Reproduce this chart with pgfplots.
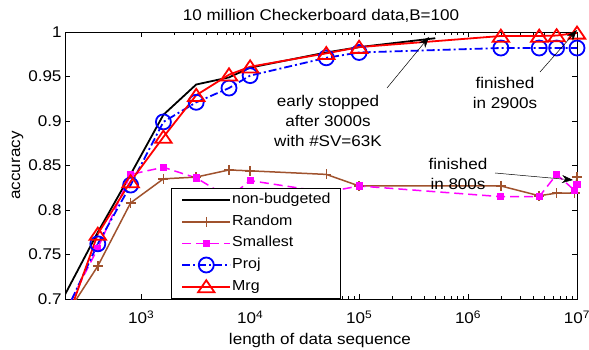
\documentclass[border=0pt]{standalone}
\usepackage{fontspec}
\setmainfont{Liberation Sans}[FakeStretch=1.1]
\usepackage{pgfplots}
\pgfplotsset{compat=1.18}
\usetikzlibrary{arrows.meta}
\definecolor{brn}{RGB}{160,82,45}
\definecolor{mag}{RGB}{255,0,255}
\definecolor{blu}{RGB}{0,0,255}
\definecolor{rd}{RGB}{255,0,0}
\begin{document}
\begin{tikzpicture}[font=\fontsize{15.5bp}{20bp}\selectfont]
\begin{axis}[
  at={(65bp,51bp)}, anchor=south west,
  scale only axis, width=512bp, height=267bp,
  xmode=log, xmin=200, xmax=1e7, ymin=0.7, ymax=1,
  xtick={1e3,1e4,1e5,1e6,1e7},
  xticklabels={10\textsuperscript{3},10\textsuperscript{4},10\textsuperscript{5},10\textsuperscript{6},10\textsuperscript{7}},
  ytick={0.7,0.75,0.8,0.85,0.9,0.95,1},
  yticklabels={0.7,0.75,0.8,0.85,0.9,0.95,1},
  xticklabel style={anchor=base, yshift=-25bp},
  tick align=inside, major tick length=5bp, minor tick length=3bp,
  axis line style={line width=0.8bp},
  every tick/.style={black, line width=0.6bp},
  legend cell align=left,
  legend image code/.code={\draw[mark repeat=2,mark phase=2] plot coordinates {(0bp,0bp) (24bp,0bp) (48bp,0bp)};},
  legend style={at={(0.207,0)}, anchor=south west, draw=black, line width=0.8bp, fill=white,
    font=\fontsize{14.5bp}{17bp}\selectfont,
    nodes={inner sep=0bp, text height=11bp, text depth=4bp},
    row sep=6.6bp, inner xsep=10bp, inner ysep=4.5bp,
    /tikz/every odd column/.append style={column sep=1bp}},
]
% segments below the lower limit, drawn without marks
\addplot[brn, line width=1.5bp, forget plot] coordinates {(200,0.68) (400,0.737)};
\addplot[mag, line width=1.5bp, dash pattern=on 9bp off 5bp, forget plot] coordinates {(200,0.685) (400,0.757)};
\addplot[blu, line width=1.8bp, dash pattern=on 8bp off 3bp on 2bp off 3bp, forget plot] coordinates {(200,0.683) (400,0.762)};
\addplot[rd, line width=1.8bp, forget plot] coordinates {(200,0.670) (400,0.773)};

\addplot[black, line width=1.8bp] coordinates {
(200,0.705) (400,0.775) (800,0.840) (1600,0.907) (3200,0.941) (6400,0.949) (10000,0.960) (50000,0.977) (100000,0.983) (500000,0.993)};
\addlegendentry{non-budgeted}
\addplot[brn, line width=1.5bp, mark=+, mark size=5bp] coordinates {
(400,0.737) (800,0.808) (1600,0.835) (3200,0.837) (6400,0.845) (10000,0.844) (50000,0.840) (100000,0.827) (2000000,0.827) (4500000,0.816) (6500000,0.819) (9500000,0.819) (10000000,0.837)};
\addlegendentry{Random}
\addplot[mag, line width=1.5bp, dash pattern=on 9bp off 5bp, mark=square*, mark size=2.8bp, mark options={solid}] coordinates {
(400,0.757) (800,0.840) (1600,0.848) (3200,0.836) (6400,0.814) (10000,0.833) (50000,0.820) (100000,0.827) (2000000,0.815) (4500000,0.815) (6500000,0.840) (9500000,0.822) (10000000,0.829)};
\addlegendentry{Smallest}
\addplot[blu, line width=1.8bp, dash pattern=on 8bp off 3bp on 2bp off 3bp, mark=o, mark size=7.5bp, mark options={solid}] coordinates {
(400,0.762) (800,0.828) (1600,0.899) (3200,0.921) (6400,0.937) (10000,0.951) (50000,0.971) (100000,0.977) (2000000,0.982) (4500000,0.982) (6500000,0.982) (10000000,0.982)};
\addlegendentry{Proj}
\addplot[rd, line width=1.8bp, mark=triangle, mark size=9.5bp, mark options={solid, yscale=0.85, yshift=-2bp}] coordinates {
(400,0.773) (800,0.832) (1600,0.882) (3200,0.929) (6400,0.952) (10000,0.961) (50000,0.976) (100000,0.983) (2000000,0.9955) (4500000,0.9955) (6500000,0.996) (10000000,0.999)};
\addlegendentry{Mrg}
\end{axis}
\node[anchor=base] at (321bp,329.5bp) {10 million Checkerboard data,B=100};
\node[anchor=base] at (320bp,5.5bp) {length of data sequence};
\node[anchor=base, rotate=90] at (20bp,184.5bp) {accuracy};
\node[align=center] at (328bp,229bp) {early stopped\\after 3000s\\with \#SV=63K};
\draw[-{Stealth[length=11bp,width=8bp]}, line width=0.5bp] (387bp,262bp) -- (429bp,313bp);
\node[align=center] at (505bp,257bp) {finished\\in 2900s};
\draw[-{Stealth[length=11bp,width=8bp]}, line width=0.5bp] (540bp,278bp) -- (577bp,320bp);
\node[align=center] at (458bp,176bp) {finished\\in 800s};
\draw[-{Stealth[length=11bp,width=8bp]}, line width=0.5bp] (495bp,177bp) -- (573bp,170bp);
\pgfresetboundingbox
\useasboundingbox (0,0) rectangle (589bp,350bp);
\end{tikzpicture}
\end{document}
